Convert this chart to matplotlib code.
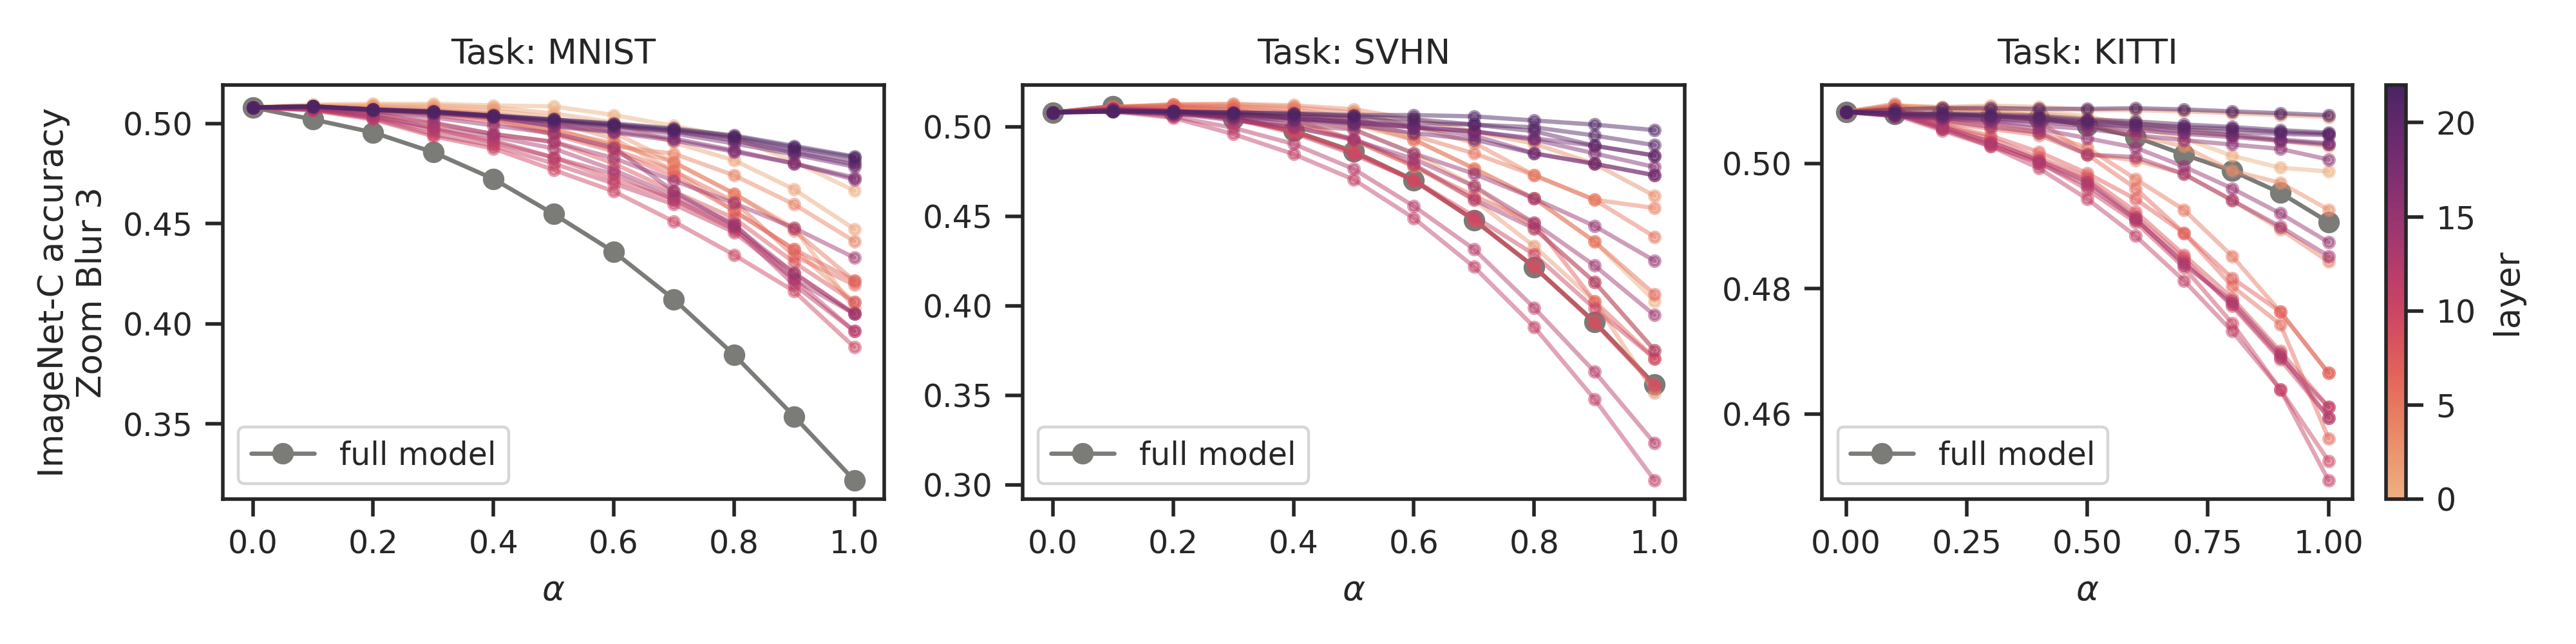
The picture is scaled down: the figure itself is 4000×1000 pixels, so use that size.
import numpy as np
import matplotlib
matplotlib.use("Agg")
import matplotlib.pyplot as plt
import seaborn as sns
from matplotlib.colors import Normalize
from matplotlib.cm import ScalarMappable

sns.set_theme(style="ticks", context="paper")
plt.rcParams['font.family'] = ['DejaVu Sans']

alphas = [0.0, 0.1, 0.2, 0.3, 0.4, 0.5, 0.6, 0.7, 0.8, 0.9, 1.0]
tasks = ["MNIST", "SVHN", "KITTI"]
layers = list(range(23))

full_mnist = [0.508, 0.502, 0.4955, 0.4856, 0.4723, 0.4548, 0.4359, 0.4122, 0.3845, 0.3537, 0.3218]
full_svhn = [0.508, 0.5115, 0.509, 0.5046, 0.4977, 0.4862, 0.4702, 0.4479, 0.4216, 0.391, 0.356]
full_kitti = [0.5082, 0.5079, 0.5079, 0.5076, 0.5073, 0.506, 0.5042, 0.5014, 0.4988, 0.4953, 0.4906]

mnist_layers = [
    [0.508, 0.5095, 0.5098, 0.5098, 0.509, 0.5085, 0.5042, 0.4988, 0.493, 0.481, 0.4664],
    [0.508, 0.509, 0.5092, 0.509, 0.508, 0.505, 0.5005, 0.4905, 0.4816, 0.4671, 0.4473],
    [0.508, 0.5088, 0.5085, 0.508, 0.5065, 0.503, 0.4955, 0.4806, 0.465, 0.4478, 0.4076],
    [0.508, 0.5085, 0.508, 0.507, 0.505, 0.5008, 0.4924, 0.4763, 0.4564, 0.4371, 0.4108],
    [0.508, 0.5085, 0.5075, 0.5065, 0.5045, 0.4977, 0.4886, 0.4849, 0.4741, 0.4596, 0.4412],
    [0.508, 0.5083, 0.507, 0.5055, 0.503, 0.4965, 0.49, 0.4806, 0.465, 0.4465, 0.4215],
    [0.508, 0.508, 0.5065, 0.505, 0.502, 0.4955, 0.487, 0.4763, 0.461, 0.4339, 0.4194],
    [0.508, 0.5078, 0.506, 0.504, 0.501, 0.4945, 0.486, 0.4736, 0.4564, 0.4371, 0.4215],
    [0.508, 0.5075, 0.5045, 0.5, 0.4947, 0.4908, 0.48, 0.466, 0.4527, 0.4306, 0.4108],
    [0.508, 0.507, 0.504, 0.4975, 0.4905, 0.483, 0.472, 0.462, 0.447, 0.4253, 0.4049],
    [0.508, 0.5065, 0.502, 0.4936, 0.4875, 0.4768, 0.4661, 0.451, 0.4344, 0.4162, 0.3883],
    [0.508, 0.5068, 0.5025, 0.4945, 0.489, 0.48, 0.47, 0.4596, 0.4457, 0.4221, 0.3963],
    [0.508, 0.507, 0.503, 0.4965, 0.4915, 0.483, 0.4747, 0.462, 0.448, 0.4194, 0.3963],
    [0.508, 0.5072, 0.5035, 0.498, 0.4935, 0.4875, 0.4768, 0.464, 0.45, 0.4221, 0.4049],
    [0.508, 0.5075, 0.505, 0.5005, 0.4947, 0.4908, 0.4827, 0.4714, 0.4602, 0.4478, 0.433],
    [0.508, 0.5078, 0.506, 0.503, 0.499, 0.495, 0.488, 0.466, 0.449, 0.4253, 0.4049],
    [0.508, 0.5082, 0.507, 0.505, 0.503, 0.4985, 0.4955, 0.4915, 0.4859, 0.48, 0.472],
    [0.508, 0.5083, 0.507, 0.5052, 0.5032, 0.499, 0.496, 0.4925, 0.4865, 0.48, 0.473],
    [0.508, 0.5085, 0.5065, 0.5055, 0.504, 0.5005, 0.498, 0.495, 0.49, 0.4845, 0.4784],
    [0.508, 0.5085, 0.5068, 0.5057, 0.5035, 0.501, 0.4985, 0.496, 0.4915, 0.4855, 0.4795],
    [0.508, 0.5085, 0.5068, 0.5058, 0.5035, 0.5015, 0.499, 0.4965, 0.4925, 0.4865, 0.481],
    [0.508, 0.5085, 0.507, 0.506, 0.504, 0.502, 0.4995, 0.497, 0.4935, 0.488, 0.483],
    [0.508, 0.5085, 0.507, 0.506, 0.5038, 0.502, 0.5, 0.4975, 0.494, 0.4888, 0.4835],
]

svhn_layers = [
    [0.508, 0.5105, 0.511, 0.5095, 0.5065, 0.501, 0.4928, 0.4767, 0.4599, 0.4359, 0.4026],
    [0.508, 0.5105, 0.5105, 0.5085, 0.505, 0.4985, 0.4851, 0.4668, 0.4431, 0.4133, 0.3751],
    [0.508, 0.5105, 0.51, 0.507, 0.5025, 0.4925, 0.4779, 0.4592, 0.4332, 0.4026, 0.3514],
    [0.508, 0.511, 0.5125, 0.5128, 0.512, 0.5097, 0.5042, 0.4974, 0.4905, 0.4793, 0.4614],
    [0.508, 0.511, 0.5125, 0.5125, 0.511, 0.508, 0.5, 0.491, 0.4729, 0.4592, 0.4546],
    [0.508, 0.511, 0.512, 0.5115, 0.5095, 0.505, 0.4951, 0.4851, 0.4729, 0.4592, 0.4385],
    [0.508, 0.511, 0.5115, 0.5105, 0.508, 0.5025, 0.4928, 0.4767, 0.4599, 0.4359, 0.4064],
    [0.508, 0.511, 0.511, 0.5095, 0.5045, 0.4925, 0.4779, 0.4614, 0.4462, 0.4026, 0.3705],
    [0.508, 0.5105, 0.5095, 0.5055, 0.4977, 0.4862, 0.4702, 0.4479, 0.4217, 0.391, 0.356],
    [0.508, 0.5105, 0.509, 0.505, 0.497, 0.4855, 0.4698, 0.4479, 0.4217, 0.3905, 0.355],
    [0.508, 0.51, 0.5085, 0.5045, 0.4965, 0.4845, 0.4702, 0.45, 0.4286, 0.3985, 0.3705],
    [0.508, 0.5085, 0.505, 0.4959, 0.4847, 0.4705, 0.4489, 0.4217, 0.3881, 0.3479, 0.3025],
    [0.508, 0.509, 0.5057, 0.4994, 0.4904, 0.4764, 0.4556, 0.4316, 0.3988, 0.3632, 0.3232],
    [0.508, 0.5095, 0.5075, 0.5035, 0.4995, 0.4935, 0.479, 0.4592, 0.4431, 0.4133, 0.3751],
    [0.508, 0.5095, 0.508, 0.504, 0.5, 0.4925, 0.482, 0.4668, 0.4462, 0.4225, 0.3947],
    [0.508, 0.51, 0.509, 0.5055, 0.501, 0.4985, 0.4851, 0.4737, 0.4599, 0.4446, 0.4251],
    [0.508, 0.5095, 0.5085, 0.507, 0.5045, 0.5025, 0.4997, 0.4951, 0.4851, 0.4793, 0.4729],
    [0.508, 0.509, 0.5085, 0.5075, 0.505, 0.503, 0.5, 0.4974, 0.4928, 0.4851, 0.4775],
    [0.508, 0.5085, 0.5075, 0.5065, 0.5045, 0.502, 0.4997, 0.4974, 0.4935, 0.4894, 0.4839],
    [0.508, 0.5085, 0.507, 0.5055, 0.5035, 0.501, 0.4965, 0.4928, 0.4851, 0.4793, 0.4729],
    [0.508, 0.509, 0.508, 0.507, 0.506, 0.5045, 0.502, 0.5012, 0.4975, 0.4894, 0.4839],
    [0.508, 0.509, 0.5085, 0.508, 0.507, 0.506, 0.5042, 0.5012, 0.4997, 0.4951, 0.4897],
    [0.508, 0.5085, 0.5085, 0.508, 0.5075, 0.5065, 0.5065, 0.5058, 0.5035, 0.5012, 0.4981],
]

kitti_layers = [
    [0.5082, 0.5093, 0.5089, 0.509, 0.5085, 0.5075, 0.5058, 0.504, 0.5012, 0.4993, 0.4987],
    [0.5082, 0.509, 0.5088, 0.5085, 0.508, 0.5072, 0.5065, 0.5055, 0.5045, 0.5036, 0.5027],
    [0.5082, 0.5092, 0.509, 0.5092, 0.509, 0.5085, 0.5085, 0.5083, 0.508, 0.5077, 0.5074],
    [0.5082, 0.5092, 0.5088, 0.5085, 0.5075, 0.5065, 0.5045, 0.5027, 0.4988, 0.4969, 0.4926],
    [0.5082, 0.509, 0.5085, 0.508, 0.5068, 0.5014, 0.5005, 0.4983, 0.4941, 0.4895, 0.4843],
    [0.5082, 0.5095, 0.507, 0.5062, 0.505, 0.5025, 0.4975, 0.4926, 0.4852, 0.4763, 0.4665],
    [0.5082, 0.509, 0.5065, 0.5055, 0.5045, 0.5014, 0.496, 0.4889, 0.4804, 0.4743, 0.4561],
    [0.5082, 0.5088, 0.5062, 0.5044, 0.5018, 0.4984, 0.4943, 0.4889, 0.4817, 0.4763, 0.4665],
    [0.5082, 0.5085, 0.506, 0.504, 0.5009, 0.4978, 0.4923, 0.4854, 0.4785, 0.47, 0.4611],
    [0.5082, 0.5082, 0.5058, 0.5034, 0.5005, 0.4973, 0.4915, 0.4848, 0.4772, 0.4687, 0.4594],
    [0.5082, 0.508, 0.5055, 0.5027, 0.5002, 0.4958, 0.4906, 0.4834, 0.4745, 0.4639, 0.4525],
    [0.5082, 0.5078, 0.5052, 0.5027, 0.4992, 0.4943, 0.4884, 0.4813, 0.4732, 0.4639, 0.4494],
    [0.5082, 0.5079, 0.5055, 0.503, 0.5, 0.4965, 0.491, 0.4842, 0.4775, 0.469, 0.4611],
    [0.5082, 0.508, 0.5058, 0.5034, 0.5004, 0.497, 0.4912, 0.4838, 0.478, 0.4695, 0.4594],
    [0.5082, 0.5077, 0.5068, 0.5058, 0.5049, 0.5014, 0.501, 0.4983, 0.4941, 0.4899, 0.4852],
    [0.5082, 0.5078, 0.5072, 0.5065, 0.5055, 0.504, 0.5025, 0.4995, 0.496, 0.492, 0.4874],
    [0.5082, 0.5075, 0.5072, 0.5068, 0.506, 0.5055, 0.5045, 0.5037, 0.503, 0.5023, 0.5006],
    [0.5082, 0.5076, 0.5074, 0.507, 0.5066, 0.506, 0.5053, 0.5047, 0.5042, 0.5036, 0.503],
    [0.5082, 0.5077, 0.5075, 0.5072, 0.5068, 0.5063, 0.5058, 0.505, 0.5045, 0.5038, 0.5032],
    [0.5082, 0.5078, 0.5077, 0.5075, 0.507, 0.5065, 0.506, 0.5055, 0.505, 0.5047, 0.5045],
    [0.5082, 0.5079, 0.5078, 0.5076, 0.5073, 0.5068, 0.5063, 0.5058, 0.5055, 0.505, 0.5047],
    [0.5082, 0.508, 0.508, 0.5078, 0.5076, 0.507, 0.5067, 0.5062, 0.5058, 0.5053, 0.5049],
    [0.5082, 0.5086, 0.5088, 0.5088, 0.5087, 0.5087, 0.5088, 0.5086, 0.5083, 0.508, 0.5077],
]

full_models = [full_mnist, full_svhn, full_kitti]
layer_data = [mnist_layers, svhn_layers, kitti_layers]
xticks_list = [[0.0, 0.2, 0.4, 0.6, 0.8, 1.0], [0.0, 0.2, 0.4, 0.6, 0.8, 1.0],
               [0.0, 0.25, 0.5, 0.75, 1.0]]
xtick_fmt = ["{:.1f}", "{:.1f}", "{:.2f}"]
yticks_list = [[0.35, 0.40, 0.45, 0.50], [0.30, 0.35, 0.40, 0.45, 0.50],
               [0.46, 0.48, 0.50]]

cmap = sns.color_palette("flare", as_cmap=True)
norm = Normalize(vmin=0, vmax=22)

fig = plt.figure(figsize=(10, 2.5), dpi=400)
positions = [[0.0865, 0.225, 0.2568, 0.643],
             [0.397, 0.225, 0.2570, 0.643],
             [0.7073, 0.225, 0.2060, 0.643]]
axes = [fig.add_axes(p) for p in positions]
cax = fig.add_axes([0.9263, 0.225, 0.0078, 0.643])

for i, ax in enumerate(axes):
    ax.plot(alphas, full_models[i], color="#7b7b78", marker="o", markersize=5,
            linewidth=1.2, label="full model", zorder=2)
    for li, vals in zip(layers, layer_data[i]):
        ax.plot(alphas, vals, color=cmap(norm(li)), marker="o", markersize=2.8,
                linewidth=1.2, alpha=0.48, zorder=3)
    ax.set_title(f"Task: {tasks[i]}")
    ax.set_xlabel(r"$\alpha$")
    ax.set_xticks(xticks_list[i])
    ax.set_xticklabels([xtick_fmt[i].format(v) for v in xticks_list[i]])
    ax.set_yticks(yticks_list[i])
    ax.set_yticklabels([f"{v:.2f}" for v in yticks_list[i]])
    ax.legend(loc="lower left")

axes[0].set_ylabel("ImageNet-C accuracy\nZoom Blur 3")

sm = ScalarMappable(norm=norm, cmap=cmap)
sm.set_array([])
cb = fig.colorbar(sm, cax=cax)
cb.set_label("layer")
cb.set_ticks([0, 5, 10, 15, 20])
cb.outline.set_linewidth(1.0)

fig.savefig("out.png", dpi=400)
